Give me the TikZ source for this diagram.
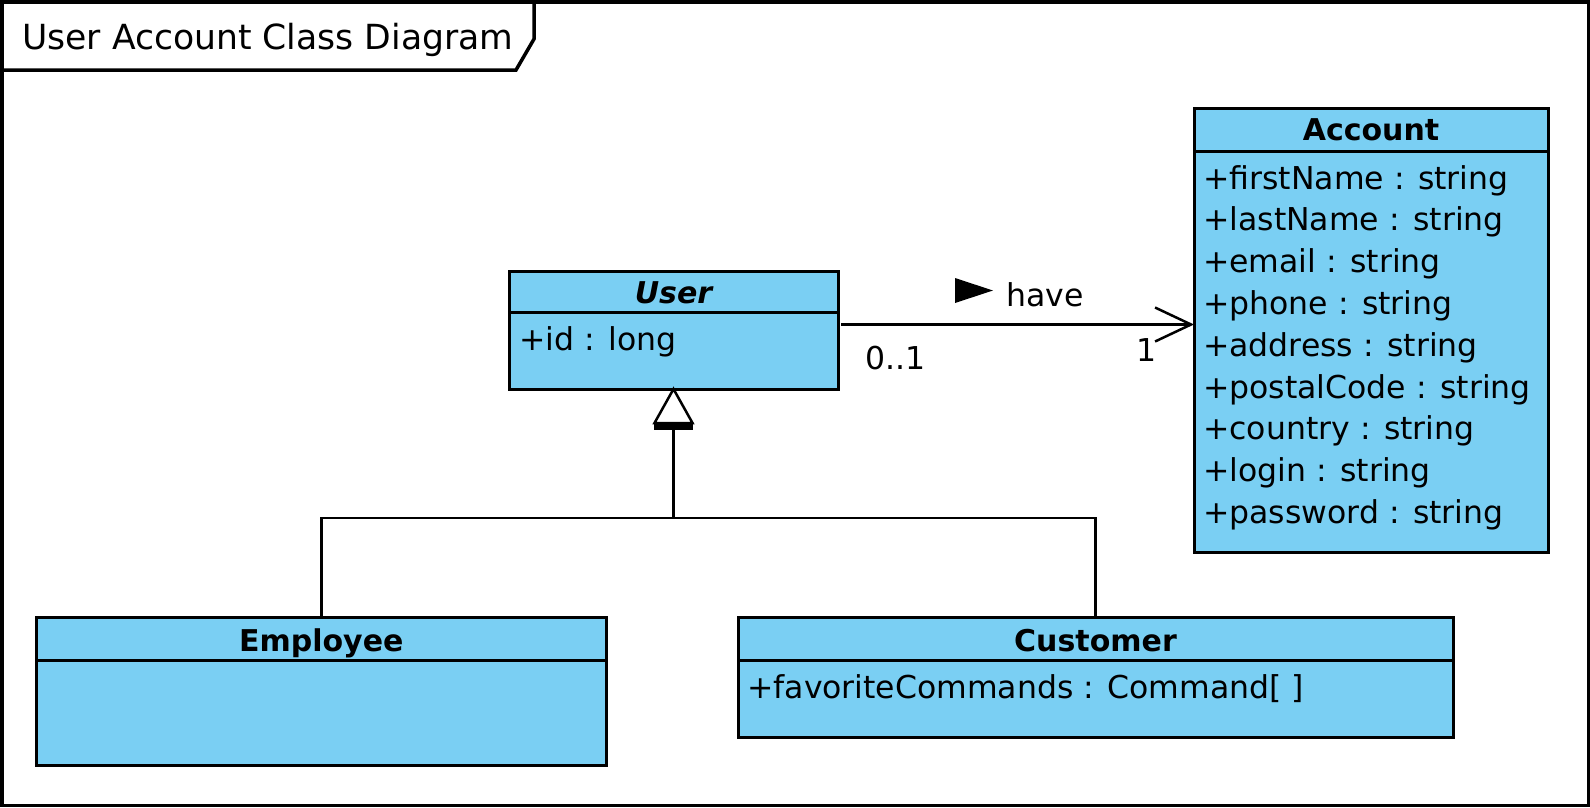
\documentclass[tikz,border=0pt]{standalone}
\usepackage{fontspec}
\setmainfont{DejaVu Sans}
\usetikzlibrary{arrows.meta}
\definecolor{clsfill}{RGB}{122,207,243}
\begin{document}
\begin{tikzpicture}[x=1pt,y=-1pt,
  classbox/.style={draw, fill=clsfill, line width=3pt, inner sep=0pt, outer sep=0pt, anchor=north west},
  divider/.style={line width=3pt},
  cname/.style={font=\fontsize{30}{36}\selectfont\bfseries, anchor=base, inner sep=0pt},
  attr/.style={font=\fontsize{31.5}{38}\selectfont, anchor=base west, inner sep=0pt},
  conn/.style={line width=2.5pt},
  lbl/.style={font=\fontsize{31.5}{38}\selectfont, inner sep=0pt},
  frameline/.style={line width=3.5pt}]
\useasboundingbox (0,0) rectangle (1590,807);
% frame and title tab
\draw[frameline] (1.75,1.75) rectangle (1588.25,805.25);
\draw[frameline] (1.75,70) -- (516,70) -- (534,39) -- (534,1.75);
\node[anchor=base west, inner sep=0pt, font=\fontsize{34.6}{40}\selectfont] (title) at (22,49) {User Account Class Diagram};

% User
\node[classbox, minimum width=329pt, minimum height=118pt] (user) at (509,271) {};
\draw[divider] ([yshift=-41pt]user.north west) -- ([yshift=-41pt]user.north east);
\node[cname, font=\fontsize{30}{36}\selectfont\bfseries\itshape] (username) at ([yshift=-32pt]user.north) {User};
\node[attr] (uid) at (519,350) {+id : long};

% Account
\node[classbox, minimum width=354pt, minimum height=444pt] (acc) at (1194,108) {};
\draw[divider] ([yshift=-43pt]acc.north west) -- ([yshift=-43pt]acc.north east);
\node[cname] (accname) at ([yshift=-32pt]acc.north) {Account};
\foreach \t [count=\i] in {+firstName : string,+lastName : string,+email : string,+phone : string,+address : string,+postalCode : string,+country : string,+login : string,+password : string}
  \node[attr] (a\i) at (1203,{189+41.8*(\i-1)}) {\t};

% Employee
\node[classbox, minimum width=569.5pt, minimum height=147.5pt] (emp) at (36.5,617.5) {};
\draw[divider] ([yshift=-42.5pt]emp.north west) -- ([yshift=-42.5pt]emp.north east);
\node[cname] (empname) at ([yshift=-33.5pt]emp.north) {Employee};

% Customer
\node[classbox, minimum width=715pt, minimum height=119.5pt] (cust) at (738,617.5) {};
\draw[divider] ([yshift=-42.5pt]cust.north west) -- ([yshift=-42.5pt]cust.north east);
\node[cname] (custname) at ([yshift=-33.5pt]cust.north) {Customer};
\node[attr] (cfav) at (747,698) {+favoriteCommands : Command[ ]};

% Generalization
\coordinate (gj) at (672,518);
\draw[conn, fill=white] (user.south) -- ++(-19,34) -- ++(38,0) -- cycle;
\draw[line width=7pt] ([xshift=-19.5pt,yshift=-37pt]user.south) -- ([xshift=19.5pt,yshift=-37pt]user.south);
\draw[conn] ([yshift=-40pt]user.south) -- (user.south |- gj);
\draw[conn] (emp.north) -- (emp.north |- gj) -- (cust.north |- gj) -- (cust.north);

% Association
\coordinate (ay) at (0,324.5);
\draw[conn, shorten <=3pt, -{Straight Barb[length=36pt,width=34pt]}] (user.east |- ay) -- (acc.west |- ay);
\node[lbl, anchor=base west] (m01) at (865,369) {0..1};
\node[lbl, anchor=base east] (m1) at (1157,361) {1};
\node[lbl, anchor=base west] (have) at (1006,306) {have};
\fill (955,278) -- (993,290.5) -- (955,303) -- cycle;
\end{tikzpicture}
\end{document}
